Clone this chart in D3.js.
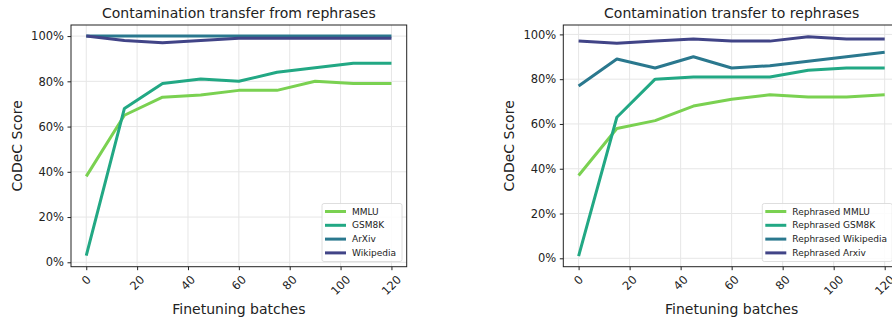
<!DOCTYPE html>
<html>
<head>
<meta charset="utf-8">
<script src="https://cdn.jsdelivr.net/npm/d3@7"></script>
<style>
  body { margin: 0; background: #fff; }
  text { font-family: "DejaVu Sans", sans-serif; fill: #222; }
</style>
</head>
<body>
<div id="chart"></div>
<script>
// Finetuning batch positions shared by both panels
var batches = [0, 15, 30, 45, 60, 75, 90, 105, 120];

// Left panel: transfer from rephrases
var fromNames = ["MMLU", "GSM8K", "ArXiv", "Wikipedia"];
var fromMmlu = [38, 65, 73, 74, 76, 76, 80, 79, 79];
var fromGsm8k = [3, 68, 79, 81, 80, 84, 86, 88, 88];
var fromArxiv = [100, 100, 100, 100, 100, 100, 100, 100, 100];
var fromWiki = [100, 98, 97, 98, 99, 99, 99, 99, 99];

// Right panel: transfer to rephrases
var toNames = ["Rephrased MMLU", "Rephrased GSM8K", "Rephrased Wikipedia", "Rephrased Arxiv"];
var toMmlu = [37, 58, 61.5, 68, 71, 73, 72, 72, 73];
var toGsm8k = [1, 63, 80, 81, 81, 81, 84, 85, 85];
var toWiki = [77, 89, 85, 90, 85, 86, 88, 90, 92];
var toArxiv = [97, 96, 97, 98, 97, 97, 99, 98, 98];

var xTicks = [0, 20, 40, 60, 80, 100, 120];
var yTicks = [0, 20, 40, 60, 80, 100];
var colors = ["#7ad151", "#22a884", "#2a788e", "#414487"];

var svgWidth = 892;
var svgHeight = 320;

var svg = d3.select("#chart")
  .append("svg")
  .attr("width", svgWidth)
  .attr("height", svgHeight);

function drawPanel(opts) {
  var x = d3.scaleLinear().domain([-6, 126]).range([opts.left, opts.right]);
  var y = d3.scaleLinear().domain(opts.ydom).range([opts.bottom, opts.top]);

  var g = svg.append("g");

  // clip so the right panel is cut at the window edge like the reference
  var clipId = "clip" + opts.id;
  g.append("clipPath").attr("id", clipId)
    .append("rect")
    .attr("x", opts.left).attr("y", opts.top)
    .attr("width", opts.right - opts.left).attr("height", opts.bottom - opts.top);

  // grid
  g.selectAll(".vgrid").data(xTicks).enter().append("line")
    .attr("x1", d => x(d)).attr("x2", d => x(d))
    .attr("y1", opts.top).attr("y2", opts.bottom)
    .attr("stroke", "#e6e6e6").attr("stroke-width", 1);
  g.selectAll(".hgrid").data(yTicks).enter().append("line")
    .attr("x1", opts.left).attr("x2", opts.right)
    .attr("y1", d => y(d)).attr("y2", d => y(d))
    .attr("stroke", "#e6e6e6").attr("stroke-width", 1);

  // lines
  var line = d3.line()
    .x((d, i) => x(batches[i]))
    .y(d => y(d));

  opts.series.forEach(function(s, i) {
    g.append("path")
      .attr("clip-path", "url(#" + clipId + ")")
      .attr("d", line(s))
      .attr("fill", "none")
      .attr("stroke", colors[i])
      .attr("stroke-width", 3)
      .attr("stroke-linejoin", "round");
  });

  // spines
  g.append("rect")
    .attr("x", opts.left).attr("y", opts.top)
    .attr("width", opts.right - opts.left).attr("height", opts.bottom - opts.top)
    .attr("fill", "none").attr("stroke", "#222").attr("stroke-width", 1);

  // y axis
  var leftAxis = d3.axisLeft(y)
    .tickValues(yTicks)
    .tickSize(3.5)
    .tickPadding(3.5)
    .tickFormat(d => d + "%");
  var ya = g.append("g")
    .attr("transform", `translate(${opts.left}, 0)`)
    .call(leftAxis);
  ya.select(".domain").remove();
  ya.selectAll("line").attr("stroke", "#222");
  ya.selectAll("text").style("font-size", "11.5px").attr("fill", "#222");

  // x axis ticks
  var bottomAxis = d3.axisBottom(x).tickValues(xTicks).tickSize(3.5).tickFormat("");
  var xa = g.append("g")
    .attr("transform", `translate(0, ${opts.bottom})`)
    .call(bottomAxis);
  xa.select(".domain").remove();
  xa.selectAll("line").attr("stroke", "#222");

  // rotated x tick labels, top of the rotated box under the tick
  xTicks.forEach(function(t) {
    var lbl = g.append("text")
      .attr("text-anchor", "middle")
      .attr("dominant-baseline", "central")
      .style("font-size", "11.5px")
      .text(t);
    var w = lbl.node().getComputedTextLength();
    var h = 8;
    var cy = opts.bottom + 8 + (w + h) * 0.7071 / 2;
    lbl.attr("transform", `translate(${x(t)}, ${cy}) rotate(-45)`);
  });

  // title and axis labels
  g.append("text")
    .attr("x", (opts.left + opts.right) / 2)
    .attr("y", 18)
    .attr("text-anchor", "middle")
    .style("font-size", "14px")
    .text(opts.title);

  g.append("text")
    .attr("x", (opts.left + opts.right) / 2)
    .attr("y", 314)
    .attr("text-anchor", "middle")
    .style("font-size", "14px")
    .text("Finetuning batches");

  g.append("text")
    .attr("transform", `translate(${opts.left - 49}, ${(opts.top + opts.bottom) / 2}) rotate(-90)`)
    .attr("text-anchor", "middle")
    .style("font-size", "14px")
    .text("CoDeC Score");

  // legend
  var lg = g.append("g").attr("transform", `translate(${opts.legX}, 203.5)`);
  lg.append("rect")
    .attr("width", opts.legW).attr("height", 58)
    .attr("rx", 2)
    .attr("fill", "#fff").attr("fill-opacity", 0.85)
    .attr("stroke", "#d5d5d5").attr("stroke-width", 0.8);
  opts.names.forEach(function(n, i) {
    var ry = 8 + i * 13.8;
    lg.append("line")
      .attr("x1", 3).attr("x2", 24)
      .attr("y1", ry).attr("y2", ry)
      .attr("stroke", colors[i]).attr("stroke-width", 3);
    lg.append("text")
      .attr("x", 30).attr("y", ry)
      .attr("dominant-baseline", "central")
      .style("font-size", "9px")
      .text(n);
  });
}

drawPanel({
  id: 1,
  left: 71, right: 406.7, top: 25, bottom: 266.7,
  ydom: [-1.95, 104.9],
  series: [fromMmlu, fromGsm8k, fromArxiv, fromWiki],
  names: fromNames,
  title: "Contamination transfer from rephrases",
  legX: 322, legW: 80
});

drawPanel({
  id: 2,
  left: 563.3, right: 900, top: 25, bottom: 266.7,
  ydom: [-3.75, 104.2],
  series: [toMmlu, toGsm8k, toWiki, toArxiv],
  names: toNames,
  title: "Contamination transfer to rephrases",
  legX: 762.3, legW: 130
});
</script>
</body>
</html>
